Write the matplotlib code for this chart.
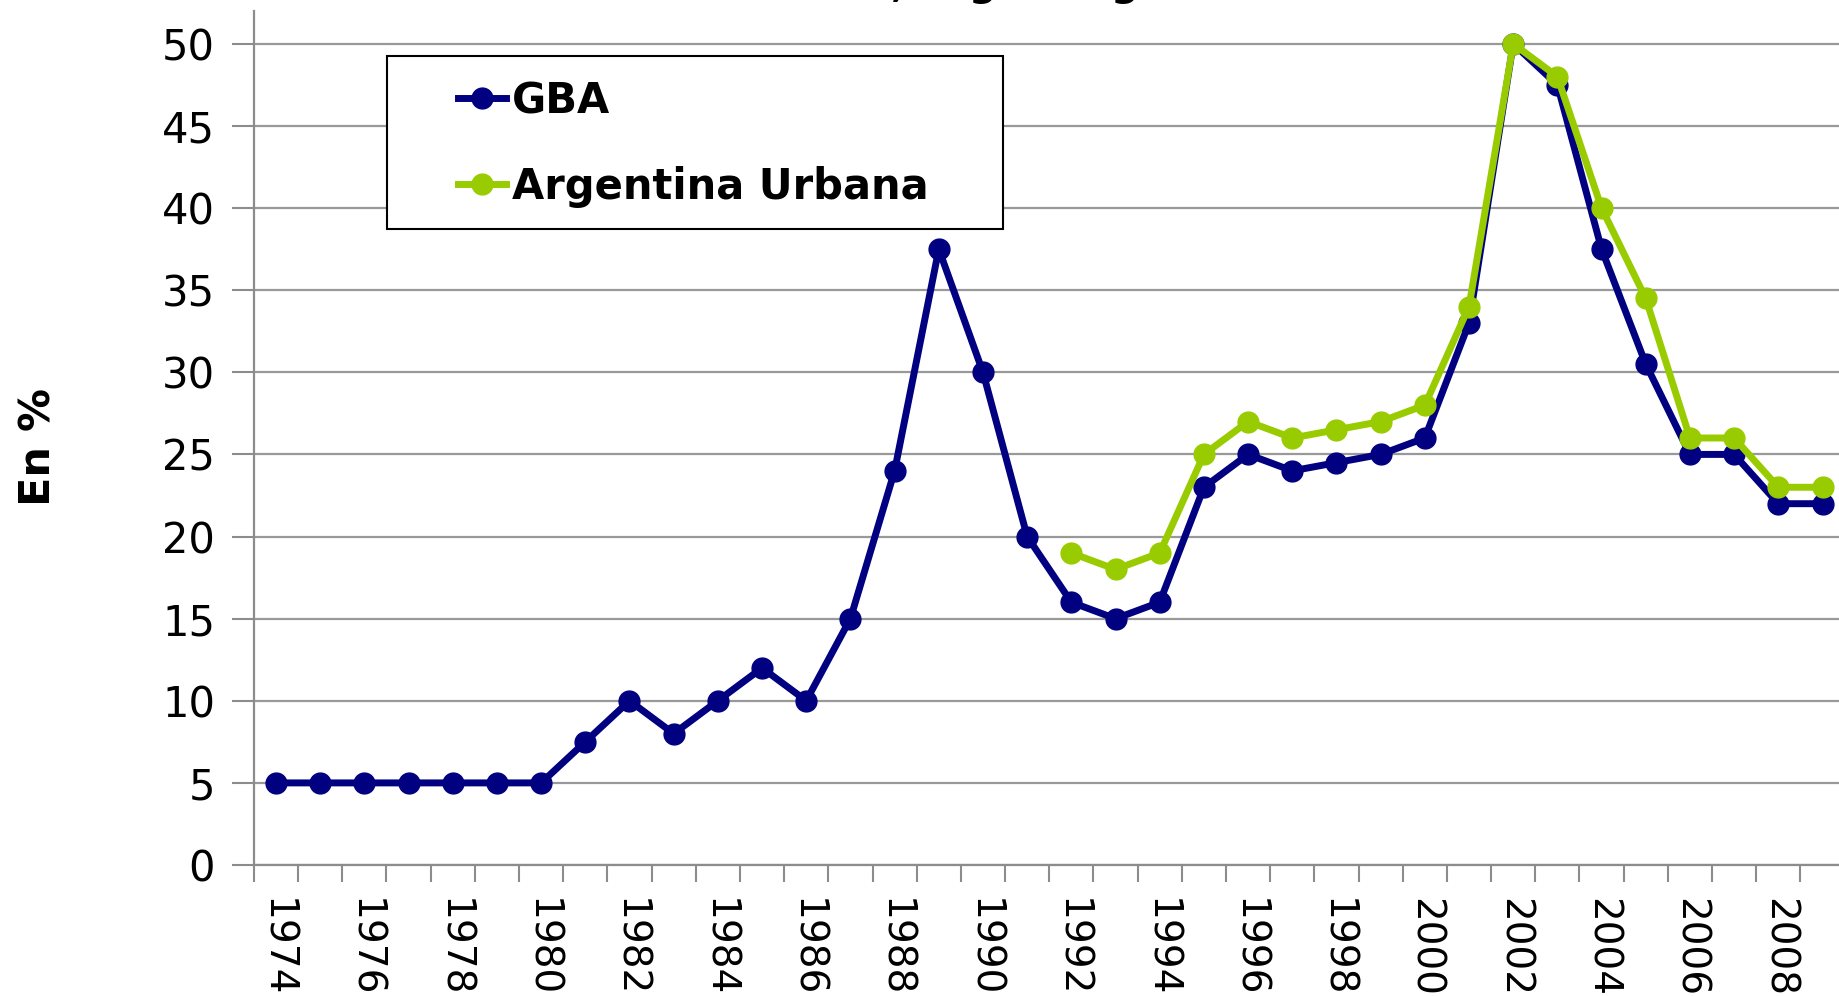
import numpy as np
import matplotlib
matplotlib.use("Agg")
import matplotlib.pyplot as plt
from matplotlib.patches import Rectangle

# data (percent)
years = list(range(1974, 2010))
gba = [5, 5, 5, 5, 5, 5, 5, 7.5, 10, 8, 10, 12, 10, 15, 24, 37.5, 30, 20,
       16, 15, 16, 23, 25, 24, 24.5, 25, 26, 33, 50, 47.5, 37.5, 30.5, 25, 25, 22, 22]
urb_years = list(range(1992, 2010))
urbana = [19, 18, 19, 25, 27, 26, 26.5, 27, 28, 34, 50, 48, 40, 34.5, 26, 26, 23, 23]

navy = '#000080'
green = '#99CC00'
grey = '#8c8c8c'

plt.rcParams['font.family'] = ['DejaVu Sans']

fig = plt.figure(figsize=(18.4, 9.96), dpi=100)
ax = fig.add_axes([0.138, 0.1315, 0.8645, 0.8575])

x_gba = np.arange(len(years))
x_urb = np.array([years.index(y) for y in urb_years])

ax.plot(x_gba, gba, '-o', color=navy, lw=5, ms=15, label='GBA', zorder=3)
ax.plot(x_urb, urbana, '-o', color=green, lw=5, ms=15, label='Argentina Urbana', zorder=4)

ax.set_xlim(-0.5, len(years) - 0.5)
ax.set_ylim(0, 52)
ax.set_yticks(np.arange(0, 51, 5))
ax.yaxis.grid(True, color='#999999', lw=1.6)
ax.set_axisbelow(True)

# tick marks between categories, labels every other year
ax.set_xticks(np.arange(-0.5, len(years), 1))
ax.set_xticklabels([])
ax.set_xticks(x_gba[::2], minor=True)
ax.set_xticklabels([str(y) for y in years[::2]], minor=True, rotation=-90,
                   fontsize=28, va='top')
ax.tick_params(axis='x', which='minor', length=0, pad=24)
ax.tick_params(axis='x', which='major', length=12, width=1.5, color=grey, direction='out')
ax.tick_params(axis='y', length=16, width=1.5, color=grey, labelsize=30, pad=12)

for s in ['top', 'right']:
    ax.spines[s].set_visible(False)
for s in ['left', 'bottom']:
    ax.spines[s].set_color(grey)
    ax.spines[s].set_linewidth(1.6)

ax.set_ylabel('En %', fontsize=31, fontweight='bold')
ax.yaxis.set_label_coords(-0.122, 0.49)

# legend: frame drawn separately so the padding matches the original box
ax.add_patch(Rectangle((387 / 1840, 1 - 229 / 996), 616 / 1840, 173 / 996,
                       transform=fig.transFigure, facecolor='white',
                       edgecolor='black', lw=1.5, zorder=5, clip_on=False))
leg = ax.legend(loc='upper left', bbox_to_anchor=(458 / 1840, 1 - 80 / 996),
                bbox_transform=fig.transFigure, prop={'weight': 'bold', 'size': 30},
                frameon=False, handlelength=1.15, handletextpad=0.15,
                labelspacing=1.05, borderpad=0, borderaxespad=0)
leg.set_zorder(6)

fig.text(1206 / 1840, 1.004, 'Incidencia de la Pobreza, según región',
         ha='right', va='baseline', fontsize=28, fontweight='bold')

fig.savefig('out.png', dpi=100)
